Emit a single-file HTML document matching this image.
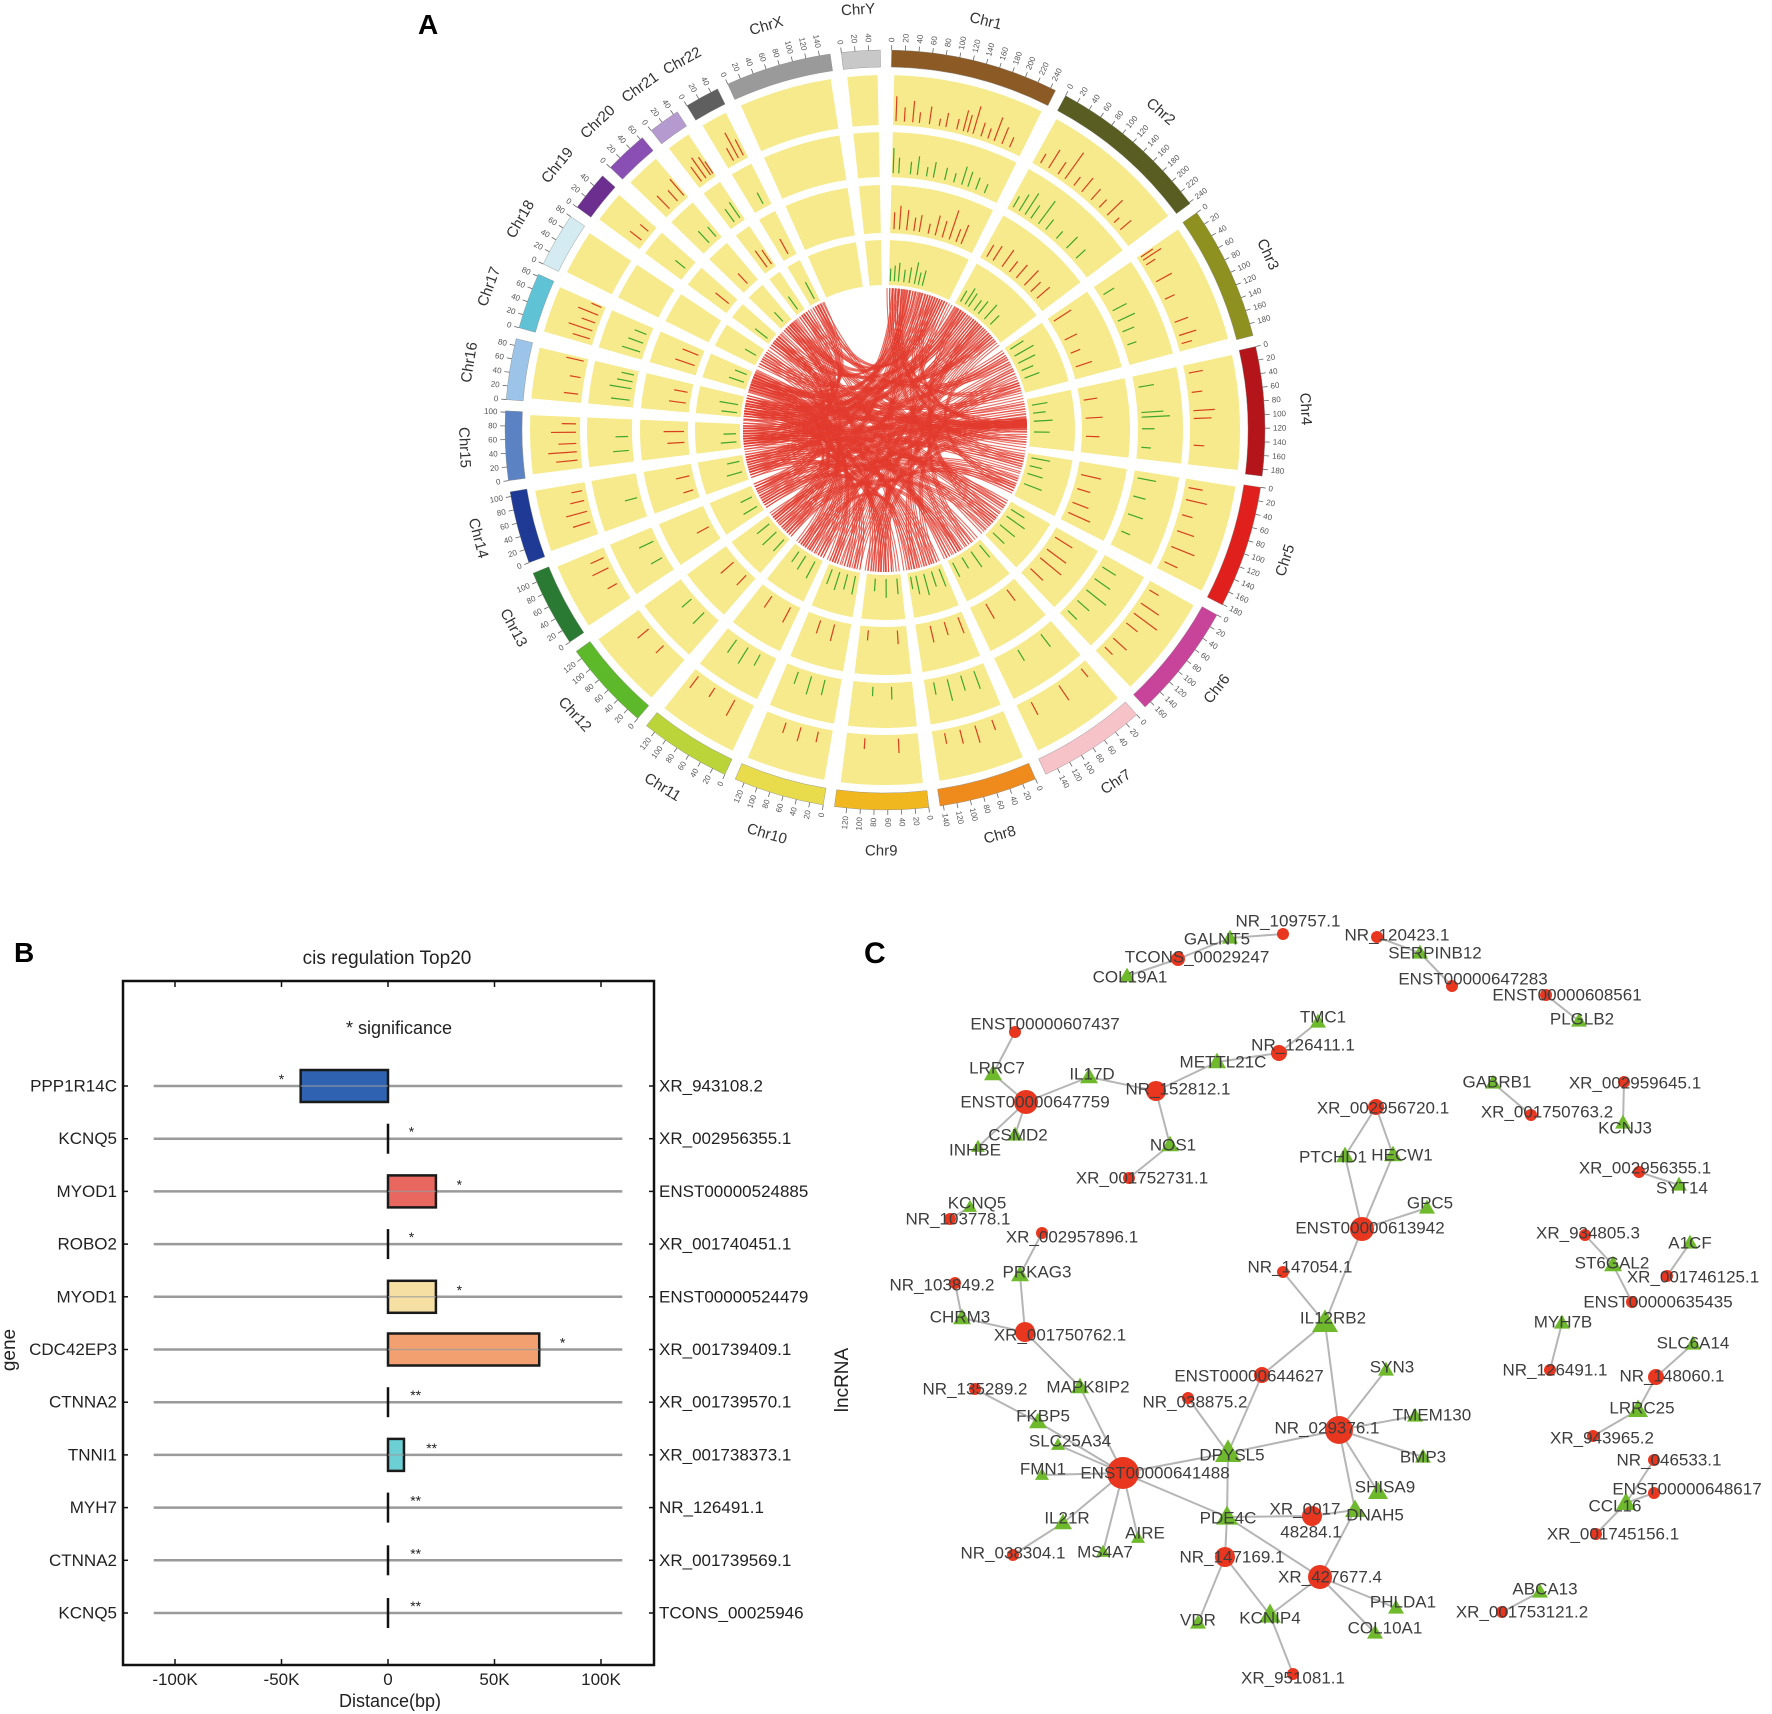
<!DOCTYPE html>
<html><head><meta charset="utf-8"><style>
html,body{margin:0;padding:0;background:#fff;}
svg{display:block;font-family:"Liberation Sans",sans-serif;}
</style></head><body>
<svg id="fig" width="1772" height="1714" viewBox="0 0 1772 1714" xmlns="http://www.w3.org/2000/svg">
<rect x="0" y="0" width="1772" height="1714" fill="#fff"/>
<text x="418" y="34" font-size="28" font-weight="bold" fill="#000">A</text>
<text x="14" y="962" font-size="28" font-weight="bold" fill="#000">B</text>
<text x="864" y="963" font-size="30" font-weight="bold" fill="#000">C</text>
<g id="circos"></g>
<g id="panelB"></g>
<g id="panelC"></g>
</svg>
<script>
// ================= PANEL A DATA =================
const chrNames = ["Chr1","Chr2","Chr3","Chr4","Chr5","Chr6","Chr7","Chr8","Chr9","Chr10","Chr11","Chr12","Chr13","Chr14","Chr15","Chr16","Chr17","Chr18","Chr19","Chr20","Chr21","Chr22","ChrX","ChrY"];
const chrSizes = [248,242,198,190,181,171,159,145,138,134,135,133,114,107,102,90,83,80,59,64,47,51,156,57];
const chrColors = ["#8c5a24","#5a5d22","#8e901f","#b3151b","#e0201c","#c8449a","#f6c3c9","#ef8b1d","#f1b71e","#e8dc4c","#bad43a","#5db82a","#2a7a34","#1e3a94","#5b83c3","#9cc4e8","#5fc2d5","#d4ebf1","#6c2f8f","#8a4fb2","#b59ad0","#5f5f5f","#9a9a9a","#c8c8c8"];
// track bars: "chr:posMb:relHeight"
const track1Bars = "1:10:.7 1:25:.4 1:40:.6 1:52:.3 1:70:.5 1:88:.2 1:100:.4 1:120:.3 1:132:.6 1:140:.5 1:150:.8 1:165:.4 1:178:.3 1:190:.7 1:205:.5 1:220:.3 2:18:.3 2:35:.6 2:55:.4 2:70:.9 2:90:.3 2:108:.5 2:130:.4 2:150:.3 2:170:.6 2:188:.2 2:205:.4 3:8:.4 3:15:.6 3:25:.3 3:60:.5 3:95:.3 3:140:.4 3:165:.5 3:180:.3 4:20:.4 4:55:.3 4:88:.6 4:102:.5 4:150:.3 5:20:.4 5:42:.6 5:70:.3 5:100:.5 5:130:.7 5:160:.4 6:20:.3 6:48:.6 6:70:.8 6:92:.4 6:128:.5 6:150:.3 7:20:.3 7:70:.5 7:128:.4 8:30:.3 8:62:.5 8:90:.4 8:118:.3 9:40:.4 9:100:.3 10:30:.3 10:62:.4 10:90:.3 11:40:.5 11:82:.3 11:118:.4 12:50:.3 12:90:.4 13:40:.3 13:72:.5 13:92:.4 14:30:.5 14:50:.6 14:70:.4 14:88:.3 15:20:.6 15:35:.8 15:50:.5 15:70:.7 15:85:.4 16:20:.4 16:50:.3 16:80:.5 17:15:.5 17:30:.7 17:45:.4 17:60:.6 17:75:.3 19:20:.4 19:40:.3 20:20:.5 20:40:.4 20:55:.6 21:15:.5 21:25:.7 21:35:.6 21:40:.4 22:20:.4 22:30:.8 22:40:.5".split(" ");
const track2Bars = "1:8:.8 1:20:.5 1:45:.4 1:60:.6 1:80:.3 1:95:.5 1:120:.4 1:140:.3 1:158:.6 1:172:.5 1:190:.4 1:210:.3 2:15:.4 2:30:.6 2:45:.8 2:60:.5 2:80:.9 2:100:.4 2:130:.3 2:160:.5 2:190:.4 3:30:.4 3:70:.5 3:95:.6 3:120:.4 3:150:.3 4:30:.5 4:85:.7 4:95:.9 4:120:.4 4:160:.3 5:20:.6 5:60:.4 5:100:.5 5:140:.3 6:30:.5 6:60:.6 6:90:.8 6:120:.5 6:150:.4 7:40:.5 7:100:.4 8:30:.6 8:60:.5 8:90:.7 8:120:.4 9:50:.4 9:90:.3 10:40:.5 10:70:.6 10:100:.4 11:40:.4 11:70:.6 11:100:.5 12:40:.5 12:80:.4 13:40:.4 13:80:.5 14:50:.4 15:30:.5 15:60:.4 16:20:.6 16:45:.7 16:60:.5 16:75:.4 17:20:.6 17:40:.5 17:60:.4 19:30:.4 20:30:.5 20:50:.4 21:20:.5 21:35:.6 22:30:.4".split(" ");
const track3Bars = "1:15:.5 1:30:.7 1:50:.6 1:70:.4 1:85:.5 1:110:.3 1:130:.6 1:150:.5 1:170:.9 1:190:.4 1:205:.6 2:20:.4 2:40:.5 2:70:.6 2:95:.4 2:120:.5 2:150:.6 2:175:.4 2:200:.5 3:20:.6 3:80:.4 3:120:.3 3:160:.5 4:40:.4 4:90:.5 4:140:.4 5:40:.6 5:80:.4 5:120:.5 5:150:.7 6:30:.6 6:70:.7 6:100:.8 6:140:.5 7:40:.4 7:110:.5 8:20:.5 8:60:.4 8:100:.5 9:30:.4 9:110:.3 10:50:.5 10:90:.4 11:30:.5 11:90:.4 12:30:.4 12:80:.5 13:50:.4 14:30:.3 14:70:.4 15:40:.5 15:70:.6 16:30:.5 16:60:.4 17:30:.6 17:60:.5 19:30:.5 20:30:.4 21:20:.6 21:35:.5 22:25:.5".split(" ");
const track4Bars = "1:10:.4 1:25:.5 1:40:.6 1:60:.4 1:80:.5 1:100:.7 1:115:.4 1:130:.5 2:20:.4 2:40:.6 2:55:.5 2:80:.4 2:100:.5 2:130:.6 2:160:.4 3:20:.5 3:50:.7 3:80:.6 3:110:.4 3:140:.5 4:30:.5 4:60:.4 4:90:.6 4:130:.5 5:20:.6 5:50:.4 5:80:.5 5:120:.6 6:30:.5 6:60:.7 6:100:.6 6:140:.5 7:20:.5 7:60:.6 7:100:.4 7:140:.5 8:20:.6 8:50:.5 8:80:.7 8:110:.6 8:130:.4 9:20:.5 9:60:.6 9:100:.4 10:20:.6 10:50:.5 10:80:.6 10:110:.5 11:30:.6 11:70:.5 11:100:.4 12:20:.5 12:60:.6 12:100:.5 13:30:.5 13:70:.4 14:40:.5 14:80:.4 15:30:.5 15:60:.4 16:20:.5 16:50:.6 17:30:.5 17:60:.4 18:40:.4 19:20:.5 20:30:.4 21:20:.5 22:30:.6".split(" ");
const linkPairs = [[1,20,4,90],[1,45,5,30],[1,60,9,50],[1,80,12,40],[1,100,15,60],[1,120,17,30],[1,140,10,70],[1,160,7,100],[1,180,4,100],[1,200,14,50],[1,220,16,20],[1,230,11,90],[1,35,13,70],[1,75,19,30],[1,150,20,40],[1,190,21,30],[1,210,22,20],[1,240,8,60],[1,10,6,80],[1,55,3,150],[1,30,14,20],[1,90,16,70],[1,170,15,10],[1,125,12,110],
[2,10,15,80],[2,30,14,70],[2,50,16,60],[2,70,17,40],[2,90,12,90],[2,110,10,40],[2,130,9,100],[2,150,11,30],[2,170,13,40],[2,190,18,50],[2,210,20,20],[2,230,5,150],[2,40,6,120],[2,120,7,50],[2,200,8,110],[2,25,19,50],[2,60,15,30],[2,100,13,100],[2,140,16,10],[2,180,10,120],
[3,20,15,40],[3,50,16,70],[3,80,12,100],[3,110,11,60],[3,140,10,100],[3,170,14,90],[3,190,17,60],[3,60,21,40],[3,100,8,30],[3,30,13,20],[3,160,9,130],
[4,10,15,20],[4,30,16,40],[4,50,14,30],[4,70,12,20],[4,85,13,90],[4,95,17,70],[4,100,15,90],[4,105,11,110],[4,110,10,20],[4,120,20,50],[4,140,9,80],[4,160,18,20],[4,180,19,10],[4,90,16,80],[4,98,14,100],[4,102,12,60],[4,96,15,50],[4,94,13,30],[4,99,17,20],
[5,10,17,20],[5,40,15,30],[5,70,16,10],[5,100,13,20],[5,130,12,120],[5,160,14,80],[5,50,20,60],[5,120,22,40],[5,150,11,20],
[6,20,15,70],[6,50,16,50],[6,80,17,80],[6,110,13,100],[6,140,12,30],[6,160,20,10],[6,30,19,20],[6,100,14,60],
[7,20,16,30],[7,50,15,100],[7,80,14,20],[7,110,17,10],[7,140,18,70],[7,150,21,20],[7,100,12,70],
[8,20,15,50],[8,50,16,80],[8,80,17,50],[8,120,13,60],[8,140,19,40],[8,100,11,80],
[9,20,16,10],[9,50,15,10],[9,90,17,20],[9,120,20,30],[9,70,14,40],
[10,20,15,50],[10,60,16,40],[10,110,17,75],[10,130,18,30],
[11,20,16,70],[11,60,17,50],[11,100,19,55],[11,120,20,55],
[12,20,17,15],[12,60,18,60],[12,100,16,30],[13,50,17,45],[13,90,19,10],[14,30,20,30],[14,80,21,10],[15,30,19,40],[16,40,21,40],[15,70,22,30],[17,60,22,45],[18,30,22,10]];

// ================= PANEL B DATA =================
const bGenes = ["PPP1R14C","KCNQ5","MYOD1","ROBO2","MYOD1","CDC42EP3","CTNNA2","TNNI1","MYH7","CTNNA2","KCNQ5"];
const bLnc = ["XR_943108.2","XR_002956355.1","ENST00000524885","XR_001740451.1","ENST00000524479","XR_001739409.1","XR_001739570.1","XR_001738373.1","NR_126491.1","XR_001739569.1","TCONS_00025946"];
const bStart = [-41000,0,0,0,0,0,0,0,0,0,0];
const bEnd = [0,0,22500,0,22500,71000,0,7500,0,0,0];
const bStars = ["*","*","*","*","*","*","**","**","**","**","**"];
const bColors = ["#2f62b0","#000","#e8675e","#000","#f6dfa3","#f2a070","#000","#6ccfd4","#000","#000","#000"];
const bTicks = [-100000,-50000,0,50000,100000];
const bTickLabels = ["-100K","-50K","0","50K","100K"];

// ================= PANEL C DATA =================
const netNodes = [
["NR_109757.1","r",1283,934,6,1288,921],["GALNT5","t",1230,938,16,1217,939],["TCONS_00029247","r",1178,959,7,1197,957],["COL19A1","t",1127,976,16,1130,977],
["NR_120423.1","r",1377,937,6,1397,935],["SERPINB12","t",1420,953,16,1435,953],["ENST00000647283","r",1452,986,6,1473,979],["ENST00000608561","r",1546,995,6,1567,995],["PLGLB2","t",1579,1021,16,1582,1019],
["ENST00000607437","r",1015,1032,6,1045,1024],["LRRC7","t",993,1074,18,997,1068],["ENST00000647759","r",1026,1102,12,1035,1102],["IL17D","t",1089,1077,18,1092,1074],["NR_152812.1","r",1156,1091,10,1178,1089],["METTL21C","t",1217,1062,18,1223,1062],["NR_126411.1","r",1279,1053,8,1303,1045],["TMC1","t",1318,1022,16,1323,1017],
["NOS1","t",1170,1145,18,1173,1145],["XR_001752731.1","r",1129,1178,6,1142,1178],["CSMD2","t",1015,1135,16,1018,1135],["INHBE","t",978,1147,14,975,1150],
["KCNQ5","t",970,1207,14,977,1203],["NR_103778.1","r",950,1219,6,958,1219],["XR_002957896.1","r",1042,1233,6,1072,1237],["PRKAG3","t",1020,1275,18,1037,1272],["NR_103849.2","r",955,1283,6,942,1285],
["CHRM3","t",962,1318,18,960,1317],["XR_001750762.1","r",1025,1332,10,1060,1335],["NR_135289.2","r",975,1389,6,975,1389],["MAPK8IP2","t",1080,1387,18,1088,1387],["FKBP5","t",1038,1422,18,1043,1416],["SLC25A34","t",1058,1445,14,1070,1441],["FMN1","t",1042,1475,14,1043,1469],
["ENST00000641488","r",1123,1473,16,1155,1473],["IL21R","t",1063,1523,18,1067,1518],["NR_038304.1","r",1013,1555,6,1013,1553],["MS4A7","t",1103,1552,14,1105,1552],["AIRE","t",1138,1538,14,1145,1533],
["DPYSL5","t",1228,1453,26,1232,1455],["NR_038875.2","r",1188,1398,6,1195,1402],["ENST00000644627","r",1262,1375,8,1249,1376],["PDE4C","t",1227,1517,22,1228,1518],["NR_147169.1","r",1225,1557,10,1232,1557],["VDR","t",1198,1623,16,1198,1620],["KCNIP4","t",1270,1615,22,1270,1618],["XR_951081.1","r",1293,1674,6,1293,1678],
["XR_001748284.1","r",1312,1516,10,0,0],["XR_427677.4","r",1320,1577,12,1330,1577],["IL12RB2","t",1325,1323,26,1333,1318],["SYN3","t",1386,1370,16,1392,1367],["NR_029376.1","r",1339,1430,14,1327,1428],["TMEM130","t",1415,1416,16,1432,1415],["BMP3","t",1423,1457,16,1423,1457],["SHISA9","t",1378,1492,20,1385,1487],["DNAH5","t",1355,1510,20,1375,1515],["PHLDA1","t",1396,1608,16,1403,1602],["COL10A1","t",1375,1633,16,1385,1628],
["NR_147054.1","r",1283,1272,6,1300,1267],["XR_002956720.1","r",1376,1107,8,1383,1108],["PTCHD1","t",1345,1156,18,1333,1157],["HECW1","t",1393,1155,18,1402,1155],["ENST00000613942","r",1362,1229,12,1370,1228],["GPC5","t",1427,1208,16,1430,1203],
["GABRB1","t",1493,1083,16,1497,1082],["XR_001750763.2","r",1531,1115,6,1547,1112],["XR_002959645.1","r",1624,1082,6,1635,1083],["KCNJ3","t",1623,1123,16,1625,1128],["XR_002956355.1","r",1639,1172,6,1645,1168],["SYT14","t",1679,1185,16,1682,1188],
["XR_934805.3","r",1585,1235,6,1588,1233],["ST6GAL2","t",1613,1265,18,1612,1263],["A1CF","t",1690,1243,16,1690,1243],["XR_001746125.1","r",1667,1276,6,1693,1277],["ENST00000635435","r",1632,1302,6,1658,1302],
["MYH7B","t",1562,1323,16,1563,1322],["NR_126491.1","r",1550,1370,6,1555,1370],["SLC6A14","t",1693,1344,16,1693,1343],["NR_148060.1","r",1656,1377,8,1672,1376],["LRRC25","t",1638,1410,20,1642,1408],["XR_943965.2","r",1593,1436,6,1602,1438],["NR_046533.1","r",1654,1460,6,1669,1460],["ENST00000648617","r",1654,1493,6,1687,1489],["CCL16","t",1626,1503,20,1615,1506],["XR_001745156.1","r",1596,1534,6,1613,1534],
["ABCA13","t",1540,1592,16,1545,1589],["XR_001753121.2","r",1502,1612,6,1522,1612]
];
const netEdges = [
["NR_109757.1","GALNT5"],["GALNT5","TCONS_00029247"],["TCONS_00029247","COL19A1"],["NR_120423.1","SERPINB12"],["SERPINB12","ENST00000647283"],["ENST00000608561","PLGLB2"],
["ENST00000607437","LRRC7"],["LRRC7","ENST00000647759"],["ENST00000647759","IL17D"],["IL17D","NR_152812.1"],["NR_152812.1","METTL21C"],["METTL21C","NR_126411.1"],["NR_126411.1","TMC1"],["NR_152812.1","NOS1"],["NOS1","XR_001752731.1"],["ENST00000647759","CSMD2"],["ENST00000647759","INHBE"],
["KCNQ5","NR_103778.1"],["XR_002957896.1","PRKAG3"],["PRKAG3","XR_001750762.1"],["NR_103849.2","CHRM3"],["CHRM3","XR_001750762.1"],["XR_001750762.1","MAPK8IP2"],["MAPK8IP2","ENST00000641488"],["NR_135289.2","FKBP5"],["FKBP5","ENST00000641488"],["SLC25A34","ENST00000641488"],["FMN1","ENST00000641488"],["IL21R","ENST00000641488"],["NR_038304.1","IL21R"],["MS4A7","ENST00000641488"],["AIRE","ENST00000641488"],["ENST00000641488","DPYSL5"],["ENST00000641488","PDE4C"],
["DPYSL5","PDE4C"],["DPYSL5","NR_038875.2"],["DPYSL5","ENST00000644627"],["DPYSL5","NR_029376.1"],["PDE4C","XR_001748284.1"],["PDE4C","NR_147169.1"],["PDE4C","XR_427677.4"],["NR_147169.1","VDR"],["NR_147169.1","KCNIP4"],["KCNIP4","XR_427677.4"],["KCNIP4","XR_951081.1"],
["ENST00000644627","IL12RB2"],["IL12RB2","NR_029376.1"],["NR_029376.1","SYN3"],["NR_029376.1","TMEM130"],["NR_029376.1","BMP3"],["NR_029376.1","SHISA9"],["NR_029376.1","DNAH5"],["DNAH5","XR_001748284.1"],["DNAH5","XR_427677.4"],["XR_427677.4","PHLDA1"],["XR_427677.4","COL10A1"],
["XR_002956720.1","PTCHD1"],["XR_002956720.1","HECW1"],["PTCHD1","ENST00000613942"],["HECW1","ENST00000613942"],["ENST00000613942","GPC5"],["ENST00000613942","IL12RB2"],["NR_147054.1","IL12RB2"],
["GABRB1","XR_001750763.2"],["XR_002959645.1","KCNJ3"],["XR_002956355.1","SYT14"],["XR_934805.3","ST6GAL2"],["ST6GAL2","ENST00000635435"],["A1CF","XR_001746125.1"],["MYH7B","NR_126491.1"],["SLC6A14","NR_148060.1"],["NR_148060.1","LRRC25"],["LRRC25","XR_943965.2"],["NR_046533.1","CCL16"],["ENST00000648617","CCL16"],["CCL16","XR_001745156.1"],["ABCA13","XR_001753121.2"]
];

const NS = "http://www.w3.org/2000/svg";
function mk(parent, tag, attrs, text){
  const e = document.createElementNS(NS, tag);
  for (const k in attrs) e.setAttribute(k, attrs[k]);
  if (text !== undefined) e.textContent = text;
  parent.appendChild(e);
  return e;
}

// ================= PANEL A =================
(function(){
  const g = document.getElementById("circos");
  const cx = 885, cy = 430;
  const GAP = 1.7, START = 1.0;
  const total = chrSizes.reduce((a,b)=>a+b,0);
  const K = (360 - GAP*chrSizes.length) / total;
  const chrStart = [];
  let a = START;
  chrSizes.forEach((s,i)=>{ chrStart.push(a); a += s*K + GAP; });
  const ang = (c,pos)=> chrStart[c] + pos*K;
  const pt = (deg,r)=>{ const t = deg*Math.PI/180; return [cx + r*Math.sin(t), cy - r*Math.cos(t)]; };
  function sector(a0,a1,r0,r1){
    const p0=pt(a0,r1),p1=pt(a1,r1),p2=pt(a1,r0),p3=pt(a0,r0);
    const lg = (a1-a0)>180?1:0;
    return `M${p0[0]},${p0[1]} A${r1},${r1} 0 ${lg} 1 ${p1[0]},${p1[1]} L${p2[0]},${p2[1]} A${r0},${r0} 0 ${lg} 0 ${p3[0]},${p3[1]} Z`;
  }
  const tracks = [[305,355],[253,298],[197,245],[145,190]];
  const trackData = [track1Bars,track2Bars,track3Bars,track4Bars];
  const trackColor = ["#d9401e","#3fa52c","#d9401e","#3fa52c"];
  chrSizes.forEach((s,i)=>{
    const a0 = chrStart[i], a1 = a0 + s*K;
    const band = mk(g,"path",{d:sector(a0,a1,363,380),fill:chrColors[i],stroke:"#888","stroke-width":0.4});
    
    
    tracks.forEach((tr,ti)=>{
      const y = mk(g,"path",{d:sector(a0+0.5,a1-0.5,tr[0],tr[1]),fill:"#f6ea8c"});
      
      
    });
    for (let m=0; m<=s; m+=20){
      const d = ang(i,m);
      const p0=pt(d,380),p1=pt(d,385);
      mk(g,"line",{x1:p0[0],y1:p0[1],x2:p1[0],y2:p1[1],stroke:"#666","stroke-width":0.8});
      const pr = pt(d,388);
      const rot = d<180 ? d-90 : d+90;
      const anchor = d<180 ? "start" : "end";
      const t = mk(g,"text",{x:pr[0],y:pr[1],"font-size":8,fill:"#555","text-anchor":anchor,"dominant-baseline":"central",transform:`rotate(${rot} ${pr[0]} ${pr[1]})`}, String(m));
      
      
    }
    const mid = (a0+a1)/2;
    const lp = pt(mid, 421);
    const rot = (mid<=100 || mid>=270) ? (mid>=270? mid-360 : mid) : mid-180;
    const lab = mk(g,"text",{x:lp[0],y:lp[1],"font-size":15,fill:"#333","text-anchor":"middle","dominant-baseline":"central",transform:`rotate(${rot} ${lp[0]} ${lp[1]})`}, chrNames[i]);
    
    
  });
  trackData.forEach((arr,ti)=>{
    const [r0,r1] = tracks[ti];
    arr.forEach(e=>{
      const [c,p,h] = e.split(":").map(Number);
      const d = ang(c-1,p);
      const p0 = pt(d, r0+4), p1 = pt(d, r0+4 + h*0.85*(r1-r0-8));
      const ln = mk(g,"line",{x1:p0[0],y1:p0[1],x2:p1[0],y2:p1[1],stroke:trackColor[ti],"stroke-width":1.2});
      
      
    });
  });
  const lg = mk(g,"g",{fill:"none",stroke:"#e23b2e","stroke-width":1.1,"stroke-opacity":0.75});
  
  
  linkPairs.forEach(l=>{
    for (let k=0;k<3;k++){
      const off = (k-1)*1.2;
      const qa = pt(ang(l[0]-1,l[1])+off,142), qb = pt(ang(l[2]-1,l[3])-off,142);
      const p = mk(lg,"path",{d:`M${qa[0]},${qa[1]} Q${cx},${cy} ${qb[0]},${qb[1]}`});
      
      
    }
  });
})();

// ================= PANEL B =================
(function(){
  const g = document.getElementById("panelB");
  const X0 = 388, PX = 213/100000;
  const x = v => X0 + v*PX;
  const L=123, R=654, T=981, B=1665;
  const rowY = i => 1086 + i*52.7;
  const title = mk(g,"text",{x:387,y:964,"font-size":19,"text-anchor":"middle",fill:"#222"},"cis regulation Top20");
  
  
  const frame = mk(g,"rect",{x:L,y:T,width:R-L,height:B-T,fill:"none",stroke:"#111","stroke-width":2.5});
  
  
  const sig = mk(g,"text",{x:399,y:1034,"font-size":18,"text-anchor":"middle",fill:"#222"},"* significance");
  
  
  bTicks.forEach((v,i)=>{
    mk(g,"line",{x1:x(v),y1:B,x2:x(v),y2:B-6,stroke:"#111","stroke-width":1.5});
    mk(g,"line",{x1:x(v),y1:T,x2:x(v),y2:T+6,stroke:"#111","stroke-width":1.5});
    const t = mk(g,"text",{x:x(v),y:1685,"font-size":17,"text-anchor":"middle",fill:"#222"},bTickLabels[i]);
    
    
  });
  const xt = mk(g,"text",{x:390,y:1707,"font-size":18,"text-anchor":"middle",fill:"#222"},"Distance(bp)");
  
  
  const yt = mk(g,"text",{x:0,y:0,"font-size":19,"text-anchor":"middle",fill:"#222",transform:"translate(15,1350) rotate(-90)"},"gene");
  
  
  const yt2 = mk(g,"text",{x:0,y:0,"font-size":19,"text-anchor":"middle",fill:"#222",transform:"translate(848,1380) rotate(-90)"},"lncRNA");
  
  
  bGenes.forEach((gn,i)=>{
    const y = rowY(i);
    mk(g,"line",{x1:L,y1:y,x2:L+5,y2:y,stroke:"#111","stroke-width":1.5});
    mk(g,"line",{x1:R,y1:y,x2:R-5,y2:y,stroke:"#111","stroke-width":1.5});
    const gl = mk(g,"text",{x:117,y:y,"font-size":17,"text-anchor":"end","dominant-baseline":"central",fill:"#222"},gn);
    
    
    const rl = mk(g,"text",{x:659,y:y,"font-size":17,"text-anchor":"start","dominant-baseline":"central",fill:"#222"},bLnc[i]);
    
    
    const line = mk(g,"line",{x1:x(-110000),y1:y,x2:x(110000),y2:y,stroke:"#9a9a9a","stroke-width":2.5});
    
    
    if (bStart[i] === bEnd[i]) {
      const tk = mk(g,"line",{x1:x(bStart[i]),y1:y-15,x2:x(bStart[i]),y2:y+15,stroke:"#111","stroke-width":2.5});
      
      
    } else {
      const bx = mk(g,"rect",{x:x(bStart[i]),y:y-16,width:x(bEnd[i])-x(bStart[i]),height:32,fill:bColors[i],stroke:"#1a1a1a","stroke-width":2.5});
      
      
      mk(g,"line",{x1:x(bStart[i]),y1:y,x2:x(bEnd[i]),y2:y,stroke:"#9a9a9a","stroke-width":1.5,"stroke-opacity":0.7});
    }
    const off = bStars[i].length>1 ? 13000 : 11000;
    const starX = bStart[i] < 0 ? x(bStart[i]-9000) : x(bEnd[i]+off);
    const st = mk(g,"text",{x:starX,y:y-2,"font-size":14,"text-anchor":"middle",fill:"#222"},bStars[i]);
    
    
  });
})();

// ================= PANEL C =================
(function(){
  const g = document.getElementById("panelC");
  const idx = {};
  netNodes.forEach(n=>{ idx[n[0]] = n; });
  const eg = mk(g,"g",{stroke:"#b5b5b5","stroke-width":2});
  
  
  netEdges.forEach(e=>{
    const a = idx[e[0]], b = idx[e[1]];
    const l = mk(eg,"line",{x1:a[2],y1:a[3],x2:b[2],y2:b[3]});
    
    
  });
  netNodes.forEach(n=>{
    const [name,type,nx,ny,s] = n;
    let m;
    if (type === "r") {
      m = mk(g,"circle",{cx:nx,cy:ny,r:s,fill:"#e8361f"});
      
    } else {
      const h = s*0.87;
      m = mk(g,"polygon",{points:`${nx},${ny-h*0.6} ${nx-s/2},${ny+h*0.4} ${nx+s/2},${ny+h*0.4}`,fill:"#6fba2c"});
      
    }
    
  });
  netNodes.forEach(n=>{
    const [name,type,nx,ny,s,lx,ly] = n;
    if (name === "XR_001748284.1") {
      const t1 = mk(g,"text",{x:1305,y:1509,"font-size":17,"text-anchor":"middle","dominant-baseline":"central",fill:"#3d3d3d"},"XR_0017");
      
      
      const t2 = mk(g,"text",{x:1311,y:1532,"font-size":17,"text-anchor":"middle","dominant-baseline":"central",fill:"#3d3d3d"},"48284.1");
      
      
      return;
    }
    const t = mk(g,"text",{x:lx,y:ly,"font-size":17,"text-anchor":"middle","dominant-baseline":"central",fill:"#3d3d3d"},name);
    
    
  });
})();
</script>
</body></html>
